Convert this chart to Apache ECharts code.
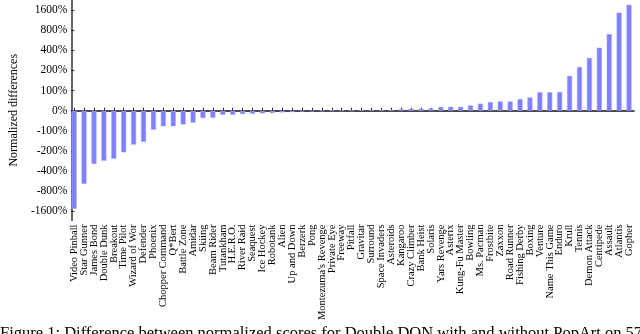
<!DOCTYPE html>
<html>
<head>
<meta charset="utf-8">
<script src="https://cdn.jsdelivr.net/npm/echarts@6/dist/echarts.min.js"></script>
<style>html,body{margin:0;padding:0;background:#fff}#c{width:640px;height:334px}</style>
</head>
<body>
<div id="c"></div>
<script>
const categories = ["Video Pinball","Star Gunner","James Bond","Double Dunk","Breakout","Time Pilot","Wizard of Wor","Defender","Phoenix","Chopper Command","Q*Bert","Battle Zone","Amidar","Skiing","Beam Rider","Tutankham","H.E.R.O.","River Raid","Seaquest","Ice Hockey","Robotank","Alien","Up and Down","Berzerk","Pong","Montezuma's Revenge","Private Eye","Freeway","Pitfall","Gravitar","Surround","Space Invaders","Asteroids","Kangaroo","Crazy Climber","Bank Heist","Solaris","Yars Revenge","Asterix","Kung-Fu Master","Bowling","Ms. Pacman","Frostbite","Zaxxon","Road Runner","Fishing Derby","Boxing","Venture","Name This Game","Enduro","Krull","Tennis","Demon Attack","Centipede","Assault","Atlantis","Gopher"];
const values = [-1460,-619,-312,-279,-260,-209,-160,-146,-94,-77,-77,-68,-59,-36,-35,-20,-20,-16.5,-15,-13,-11.5,-8,-6.5,-3,-2,-1,0.5,0.5,0.8,3,3,5,5,7,10,10,11.5,19,20,20,26,35,43,46,46,58,66,92,92,93,166,226,308,438,700,1460,1916];
const tickValues = [-5,-4,-3,-2,-1,0,1,2,3,4,5];
const yTitle = "Normalized differences";
const caption = "Figure 1: Difference between normalized scores for Double DQN with and without PopArt on 57";

// symmetric log (base 2, linear threshold 100%)
function sym(v){ const a=Math.abs(v); return a<=100 ? v/100 : Math.sign(v)*(Math.log2(a/100)+1); }
function unsymLabel(t){ if(t===0) return "0%"; const a=Math.abs(t); const p=Math.round(Math.pow(2,a-1)*100); return (t<0?"-":"")+p+"%"; }

const FONT = "Liberation Serif";
const YMIN=-5.45, YMAX=5.5;
const chart = echarts.init(document.getElementById('c'), null, {renderer:'canvas'});
chart.setOption({
  animation:false,
  backgroundColor:'#fff',
  grid:[
    {left:63, right:6, top:0, bottom:113.5},
    {left:69.2, right:6, top:0, bottom:113.5}
  ],
  xAxis:[
    {gridIndex:0, type:'value', min:0, max:1, axisLine:{show:true, lineStyle:{color:'#111', width:1.5}}, axisTick:{show:false}, axisLabel:{show:false}, splitLine:{show:false}},
    {gridIndex:1, type:'category', data:categories, boundaryGap:true,
     axisLine:{show:false},
     axisTick:{show:true, inside:true, length:3, alignWithLabel:true, interval:0, lineStyle:{color:'#222'}},
     axisLabel:{rotate:90, interval:0, fontFamily:FONT, fontSize:10.5, color:'#000', margin:4},
     splitLine:{show:false}}
  ],
  yAxis:[
    {gridIndex:0, type:'value', min:YMIN, max:YMAX,
     axisLine:{show:true, lineStyle:{color:'#333', width:1.5}},
     axisTick:{show:true, inside:true, length:3, customValues:tickValues, lineStyle:{color:'#222'}},
     axisLabel:{customValues:tickValues, formatter:v=>unsymLabel(Math.round(v)), fontFamily:FONT, fontSize:11.5, color:'#000', margin:4},
     splitLine:{show:false},
     name:yTitle, nameLocation:'middle', nameRotate:90, nameGap:44,
     nameTextStyle:{fontFamily:FONT, fontSize:12, color:'#000'}},
    {gridIndex:1, type:'value', min:YMIN, max:YMAX, show:false, splitLine:{show:false}}
  ],
  series:[{
    type:'bar', xAxisIndex:1, yAxisIndex:1,
    data:values.map(sym), barWidth:5,
    itemStyle:{color:'#8080ff', borderColor:'#a0a0ff', borderWidth:0.5}
  }],
  graphic:[{type:'text', left:0, top:325, style:{text:caption, font:'16.5px "Liberation Serif"', fill:'#000'}}]
});
</script>
</body>
</html>
